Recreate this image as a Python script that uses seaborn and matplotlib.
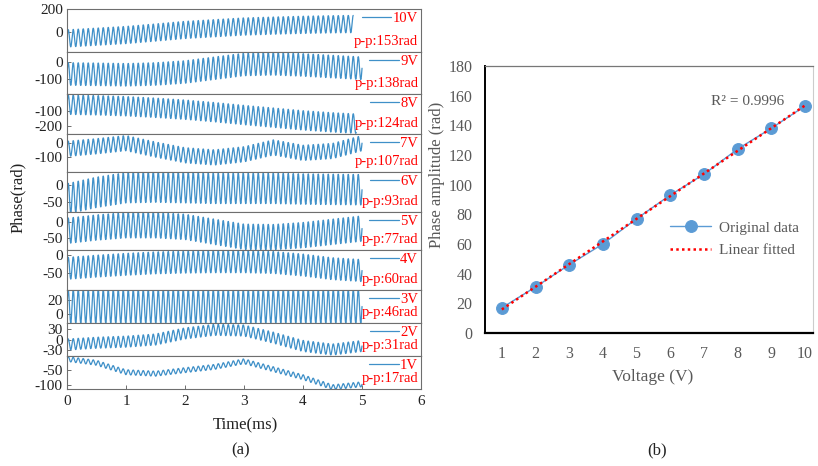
import numpy as np
import pandas as pd
import matplotlib.pyplot as plt
import seaborn as sns

plt.switch_backend("agg")

# (a) phase waveforms, panels listed top to bottom
voltages = ["10V", "9V", "8V", "7V", "6V", "5V", "4V", "3V", "2V", "1V"]
peak_to_peak = [153, 138, 124, 107, 93, 77, 60, 46, 31, 17]
signal_end_ms = [4.85, 5.0, 4.9, 5.0, 5.0, 5.0, 5.0, 5.0, 5.0, 5.0]
carrier_per_ms = 11.8

# slow drift of the waveform centre (rad) at these times (ms)
drift_time = [0, 0.5, 1, 1.5, 2, 2.5, 3, 3.5, 4, 4.5, 5]
drift_10v = [-60, -45, -30, -8, 15, 30, 45, 53, 60, 65, 68]
drift_9v = [-70, -72, -75, -70, -58, -35, -12, -8, -15, -25, -35]
drift_8v = [-62, -66, -72, -82, -94, -110, -128, -145, -162, -175, -185]
drift_7v = [-40, -22, 0, -45, -85, -100, -78, -30, -68, -55, 0]
drift_6v = [-42, -22, -8, -6, -8, -10, -10, -10, -12, -13, -14]
drift_5v = [-27, -17, -10, -10, -15, -30, -45, -46, -40, -30, -20]
drift_4v = [-36, -30, -25, -21, -19, -18, -18, -20, -27, -37, -42]
drift_3v = [11, 11, 11, 11, 11, 11, 11, 11, 11, 11, 11]
drift_2v = [-14, -9, -6, 0, 17, 27, 25, 5, -18, -28, -18]
drift_1v = [-12, -25, -57, -62, -50, -39, -20, -47, -74, -108, -98]
drifts = [drift_10v, drift_9v, drift_8v, drift_7v, drift_6v,
          drift_5v, drift_4v, drift_3v, drift_2v, drift_1v]

y_limits = [(-180, 200), (-192, 64), (-249, 6), (-202, 64), (-82, 40),
            (-85, 30), (-95, 14), (-12, 34), (-46, 46), (-114, -2)]
y_ticks = [[0, 200], [-100, 0], [-200, -100], [-100, 0], [-50, 0],
           [-50, 0], [-50, 0], [0, 20], [-30, 0, 30], [-100, -50]]
panel_heights = [43, 42, 40, 38, 40, 38, 40, 33, 33, 33]

# (b) amplitude vs voltage
voltage_v = [1, 2, 3, 4, 5, 6, 7, 8, 9, 10]
amplitude_rad = [17, 31, 46, 60, 77, 93, 107, 124, 138, 153]

sns.set_theme(style="ticks")
plt.rcParams["font.family"] = ["Liberation Serif", "DejaVu Serif"]
plt.rcParams["axes.unicode_minus"] = False

wave_blue = "#3f90c8"
gray_txt = "#595959"

fig = plt.figure(figsize=(8.18, 4.66), dpi=100)
gs = fig.add_gridspec(10, 1, left=0.0819, right=0.5147, top=0.9807,
                      bottom=0.1652, hspace=0, height_ratios=panel_heights)

axes = []
for i, volt in enumerate(voltages):
    ax = fig.add_subplot(gs[i], sharex=axes[0] if axes else None)
    axes.append(ax)

    t = np.linspace(0, signal_end_ms[i], 5000)
    center = np.interp(t, drift_time, drifts[i])
    phase = center + peak_to_peak[i] / 2 * np.sin(2 * np.pi * carrier_per_ms * t)
    df = pd.DataFrame({"t": t, "phase": phase})
    sns.lineplot(data=df, x="t", y="phase", ax=ax, color=wave_blue, lw=0.9,
                 label=volt, estimator=None, sort=False)

    ax.set_ylim(*y_limits[i])
    ax.set_yticks(y_ticks[i])
    ax.set_xlim(0, 6)
    ax.set_xlabel("")
    ax.set_ylabel("")
    for s in ax.spines.values():
        s.set_color("#6e6e6e")
        s.set_linewidth(0.8)
    ax.tick_params(axis="y", direction="in", length=3, width=0.7, pad=3,
                   labelsize=11, colors="#6e6e6e", labelcolor="#222222")

    ax.legend(loc="upper right", frameon=False, fontsize=10.5,
              handlelength=2.0, handletextpad=0.1, borderpad=0.1,
              borderaxespad=0.1, labelcolor="red")
    ax.annotate(f"p-p:{peak_to_peak[i]}rad", xy=(1, 0), xycoords="axes fraction",
                xytext=(-2, 7.5), textcoords="offset points", ha="right",
                va="center", color="red", fontsize=10.5)

    if i < len(voltages) - 1:
        ax.tick_params(axis="x", length=0, labelbottom=False)
    else:
        ax.set_xticks(range(0, 7))
        ax.tick_params(axis="x", direction="in", length=3, width=0.7, pad=4,
                       labelsize=11, colors="#6e6e6e", labelcolor="#222222")

fig.text(245 / 818, 1 - 425 / 466, "Time(ms)", ha="center", va="center",
         fontsize=12, color="#222222")
fig.text(18 / 818, 1 - 197 / 466, "Phase(rad)", ha="center", va="center",
         rotation=90, fontsize=12, color="#222222")
fig.text(241 / 818, 1 - 450 / 466, "(a)", ha="center", va="center",
         fontsize=12, color="#222222")

# right panel
ax2 = fig.add_axes([0.5929, 0.2854, 0.9939 - 0.5929, 0.8584 - 0.2854])
sns.lineplot(x=voltage_v, y=amplitude_rad, ax=ax2, color="#5b9bd5", lw=1.0,
             marker="o", markersize=8.5, markeredgecolor="#5b9bd5",
             label="Original data")
slope, intercept = np.polyfit(voltage_v, amplitude_rad, 1)
fitted = slope * np.array(voltage_v) + intercept
sns.lineplot(x=voltage_v, y=fitted, ax=ax2, color="#ff0000", lw=1.8,
             linestyle=(0, (1, 1.3)), label="Linear fitted")

ax2.set_xlim(0.5, 10.24)
ax2.set_ylim(0, 180)
ax2.set_xticks(voltage_v)
ax2.set_yticks(range(0, 181, 20))
ax2.tick_params(axis="both", length=0, labelsize=11.5, colors=gray_txt)
ax2.tick_params(axis="y", pad=9)
ax2.tick_params(axis="x", pad=9)
ax2.spines["left"].set_color("#000000")
ax2.spines["left"].set_linewidth(1.4)
ax2.spines["bottom"].set_color("#000000")
ax2.spines["bottom"].set_linewidth(1.6)
ax2.spines["top"].set_color("#777777")
ax2.spines["top"].set_linewidth(0.9)
ax2.spines["right"].set_color("#cccccc")
ax2.spines["right"].set_linewidth(0.8)

ax2.text(8.29, 156, "R² = 0.9996", ha="center", va="center", fontsize=11,
         color=gray_txt)
ax2.legend(loc="upper left", bbox_to_anchor=(0.564, 0.42), frameon=False,
           fontsize=11, handlelength=2.7, handletextpad=0.5, borderpad=0,
           borderaxespad=0, labelspacing=0.6, labelcolor=gray_txt)

fig.text(437 / 818, 1 - 175 / 466, "Phase amplitude (rad)", ha="center",
         va="center", rotation=90, fontsize=12, color=gray_txt)
fig.text(653 / 818, 1 - 377 / 466, "Voltage (V)", ha="center", va="center",
         fontsize=12.5, color=gray_txt)
fig.text(657 / 818, 1 - 450 / 466, "(b)", ha="center", va="center",
         fontsize=12, color="#222222")

fig.savefig("out.png", dpi=100)
plt.close(fig)
